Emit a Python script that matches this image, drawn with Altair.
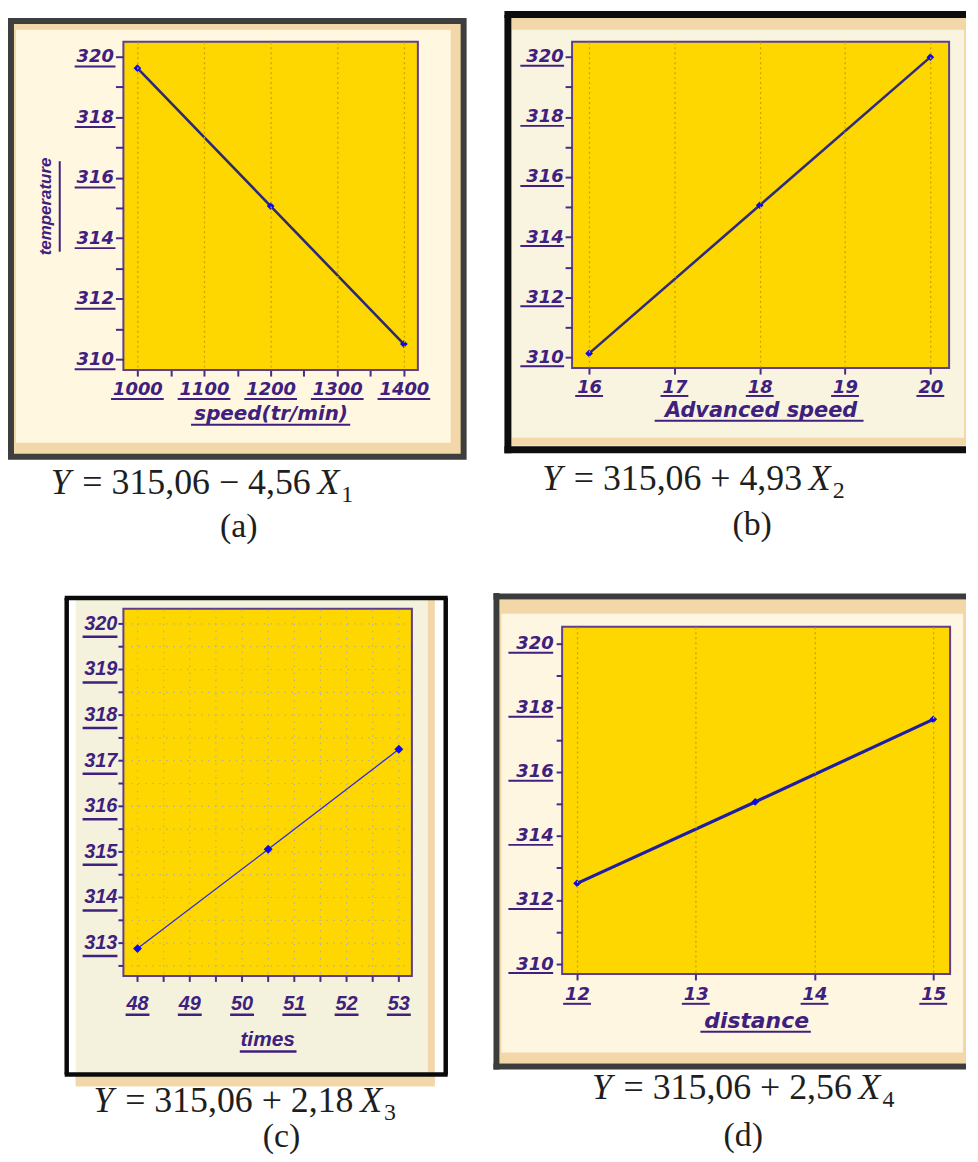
import altair as alt
import pandas as pd

# ---------------- data ----------------
a_speed = [1000, 1200, 1400]
a_temp = [319.62, 315.06, 310.50]
b_speed = [16, 18, 20]
b_temp = [310.13, 315.06, 319.99]
c_times = [48, 50.5, 53]
c_temp = [312.88, 315.06, 317.25]
d_dist = [12, 13.5, 15]
d_temp = [312.52, 315.06, 317.64]

a_xticks = [1000, 1050, 1100, 1150, 1200, 1250, 1300, 1350, 1400]
a_xlabels = [1000, 1100, 1200, 1300, 1400]
b_xticks = [16, 16.5, 17, 17.5, 18, 18.5, 19, 19.5, 20]
b_xlabels = [16, 17, 18, 19, 20]
c_xticks = [48, 48.5, 49, 49.5, 50, 50.5, 51, 51.5, 52, 52.5, 53]
c_xlabels = [48, 49, 50, 51, 52, 53]
d_xticks = [12, 12.5, 13, 13.5, 14, 14.5, 15]
d_xlabels = [12, 13, 14, 15]
y_ticks = [310, 311, 312, 313, 314, 315, 316, 317, 318, 319, 320]
y_labels = [310, 312, 314, 316, 318, 320]
c_yticks = [312.5, 313, 313.5, 314, 314.5, 315, 315.5, 316, 316.5, 317,
            317.5, 318, 318.5, 319, 319.5, 320]
c_ylabels = [313, 314, 315, 316, 317, 318, 319, 320]

x_titles = ["speed(tr/min)", "Advanced speed", "times", "distance"]
y_title = "temperature"
eq_mid = ["= 315,06 \u2212 4,56", "= 315,06 + 4,93", "= 315,06 + 2,18", "= 315,06 + 2,56"]
eq_sub = ["1", "2", "3", "4"]
captions = ["(a)", "(b)", "(c)", "(d)"]

# ---------------- styles ----------------
YELLOW = "#FFD700"
BORDER = "#5E3F8F"
TICK = "#4A2A86"
LAB = "#40207E"
TAN = "#F2D8A8"
EQ = "#1E1E1E"
PT = "#0A0AF0"
GC = "#B5B09A"
SERIF = "Liberation Serif"
DV = "DejaVu Sans"
LS = "Liberation Sans"


def one_row():
    return alt.Chart(pd.DataFrame({"k": [0]}))


def box(x1, x2, y1, y2, **kw):
    return one_row().mark_rect(**kw).encode(
        x=alt.value(x1), x2=alt.value(x2), y=alt.value(y1), y2=alt.value(y2))


def seg(x1, x2, y1, y2, **kw):
    return one_row().mark_rule(**kw).encode(
        x=alt.value(x1), x2=alt.value(x2), y=alt.value(y1), y2=alt.value(y2))


def txt(s, x, y, **kw):
    return alt.Chart(pd.DataFrame({"t": [s]})).mark_text(**kw).encode(
        text="t:N", x=alt.value(x), y=alt.value(y))


def equation(i, yx, base, labx, labbase):
    common = dict(baseline="alphabetic", font=SERIF, color=EQ)
    return [
        txt("Y", yx + 2, base, align="left", fontSize=36, fontStyle="italic", **common),
        txt(eq_mid[i], yx + 148.5, base, align="center", fontSize=36, **common),
        txt("X", yx + 270, base, align="left", fontSize=36, fontStyle="italic", **common),
        txt(eq_sub[i], yx + 294, base + 8, align="left", fontSize=24, **common),
        txt(captions[i], labx, labbase, align="center", fontSize=34, **common),
    ]


def label_style(font, size):
    return dict(labelFont=font, labelFontSize=size, labelFontWeight="bold",
                labelFontStyle="italic", labelColor=LAB)


def x_axis(values, mod, tick, pad, font, lsize, title, tsize, ty, grid_kw):
    return alt.Axis(values=values, format="d",
                    labelExpr="datum.value % " + str(mod) + " === 0 ? datum.label : ''",
                    tickSize=tick, tickWidth=2, tickColor=TICK, domain=False,
                    labelPadding=pad, labelBaseline="alphabetic", labelOverlap=False,
                    labelFlush=False, title=title, titleY=ty, titleBaseline="alphabetic",
                    titleFont=font, titleFontSize=tsize, titleFontWeight="bold",
                    titleFontStyle="italic", titleColor=LAB,
                    zindex=1, **label_style(font, lsize), **grid_kw)


def y_axis(values, mod, tick, pad, font, lsize, **extra):
    return alt.Axis(values=values, format="d",
                    labelExpr="datum.value % " + str(mod) + " === 0 ? datum.label : ''",
                    tickSize=tick, tickWidth=2, tickColor=TICK, domain=False,
                    labelPadding=pad, labelAlign="right", labelBaseline="middle",
                    labelOverlap=False, labelFlush=False, zindex=1, grid=False,
                    **label_style(font, lsize), **extra)


def panel(xs, ys, W, H, xdom, ydom, xaxis, yaxis, line_color, line_w, pt_size,
          xlabels, ylabels, ulx_hw, ulx_y, uly_x1, uly_x2, uly_off, ul_w,
          back, front, manual=None):
    df = pd.DataFrame({"x": xs, "y": ys})
    xsc = alt.Scale(domain=xdom, nice=False, zero=False)
    ysc = alt.Scale(domain=ydom, nice=False, zero=False)
    X = alt.X("x:Q", scale=xsc, axis=xaxis)
    Y = alt.Y("y:Q", scale=ysc, axis=yaxis)
    plot = box(0, W, 0, H, fill=YELLOW, stroke=BORDER, strokeWidth=2)
    mid, top = (manual(X, Y, W, H) if manual is not None else ([], []))
    line = alt.Chart(df).mark_line(color=line_color, strokeWidth=line_w).encode(x=X, y=Y)
    pts = alt.Chart(df).mark_point(shape="diamond", filled=True, color=PT,
                                   size=pt_size, opacity=1).encode(x=X, y=Y)
    ulx = alt.Chart(pd.DataFrame({"x": xlabels})).mark_rule(
        color=LAB, strokeWidth=ul_w, xOffset=-ulx_hw, x2Offset=ulx_hw).encode(
        x=X, x2=alt.X2("x"), y=alt.value(ulx_y))
    uly = alt.Chart(pd.DataFrame({"y": ylabels})).mark_rule(
        color=LAB, strokeWidth=ul_w, yOffset=uly_off).encode(
        y=Y, x=alt.value(uly_x1), x2=alt.value(uly_x2))
    layers = back + [plot] + mid + [line, pts, ulx, uly] + top + front
    return alt.layer(*layers).properties(width=W, height=H)


def manual_c(X, Y, W, H):
    # guides of panel (c), drawn through the panel's own x and y scales
    lab = dict(font=LS, fontSize=20, fontWeight="bold", fontStyle="italic", color=LAB)
    gx = alt.Chart(pd.DataFrame({"x": c_xticks})).mark_rule(
        color=GC, strokeDash=[1.5, 5.5], strokeWidth=1.2).encode(
        x=X, y=alt.value(1), y2=alt.value(H - 1))
    gy = alt.Chart(pd.DataFrame({"y": c_yticks})).mark_rule(
        color=GC, strokeDash=[1.5, 5.5], strokeWidth=1.2).encode(
        y=Y, x=alt.value(1), x2=alt.value(W - 1))
    tx = alt.Chart(pd.DataFrame({"x": c_xticks})).mark_rule(color=TICK, strokeWidth=2).encode(
        x=X, y=alt.value(H), y2=alt.value(H + 6))
    ty = alt.Chart(pd.DataFrame({"y": c_yticks})).mark_rule(color=TICK, strokeWidth=2).encode(
        y=Y, x=alt.value(-5), x2=alt.value(0))
    lx = alt.Chart(pd.DataFrame({"x": c_xlabels})).mark_text(
        align="center", baseline="alphabetic", **lab).encode(
        x=X, y=alt.value(H + 34), text=alt.Text("x:Q", format="d"))
    ly = alt.Chart(pd.DataFrame({"y": c_ylabels})).mark_text(
        align="right", baseline="middle", **lab).encode(
        y=Y, x=alt.value(-6), text=alt.Text("y:Q", format="d"))
    title = txt(x_titles[2], W / 2, H + 70, align="center", baseline="alphabetic",
                font=LS, fontSize=21, fontWeight="bold", fontStyle="italic", color=LAB)
    return [gx, gy], [tx, ty, lx, ly, title]


GRID_Y = dict(grid=True, gridColor="#C9A400", gridDash=[2, 3], gridWidth=1.3)

# ---------------- panel (a) ----------------
WA, HA = 296, 330
grid_a = dict(grid=True, gridColor="#C9A400", gridDash=[2, 3], gridWidth=1.3,
              gridOpacity={"condition": {"test": "datum.value % 100 === 0", "value": 1}, "value": 0})
pa = panel(
    a_speed, a_temp, WA, HA, [979, 1421], [309.64, 320.49],
    x_axis(a_xticks, 100, 6, 19, DV, 18, x_titles[0], 20, 50, grid_a),
    y_axis(y_ticks, 2, 8, 2, DV, 18, title=y_title, titleFont=LS, titleFontSize=17,
           titleFontWeight="bold", titleFontStyle="italic", titleColor=LAB, titleAngle=270,
           titleX=-73, titleY=HA / 2, titleBaseline="alphabetic", titleAlign="center"),
    "#2C2A74", 2.6, 60, a_xlabels, y_labels, 26.5, HA + 29, -49, -8, 10, 2,
    back=[box(-115, 367, -24, 546, fill="white"),
          box(-113, 342, -21, 417, fill=TAN, stroke="#3E3E3E", strokeWidth=6),
          box(-108, 329, -12, 403, fill="#FFF7E0")],
    front=[seg(68, 228, 385, 385, color=LAB, strokeWidth=2),
           seg(-64, -64, 120, 211, color=LAB, strokeWidth=2)] + equation(0, -75, 455, 116, 498),
)

# ---------------- panel (b) ----------------
WB, HB = 379, 328
pb = panel(
    b_speed, b_temp, WB, HB, [15.8, 20.22], [309.64, 320.5],
    x_axis(b_xticks, 1, 6, 19, DV, 18, x_titles[1], 21, 49, GRID_Y),
    y_axis(y_ticks, 2, 7, 2, DV, 18, title=None),
    "#302C7C", 2.6, 60, b_xlabels, y_labels, 14, HB + 28, -52, -8, 9, 2,
    back=[box(-84, 396, -31, 539, fill="white"),
          box(-61, 396, -26, 406, fill=TAN),
          box(-61, 394, -12, 398, fill="#F8F4DF"),
          seg(-68, 396, -27.5, -27.5, color="#0D0D0D", strokeWidth=7),
          seg(-68, 396, 410, 410, color="#0D0D0D", strokeWidth=7),
          seg(-64.5, -64.5, -27, 413.5, color="#0D0D0D", strokeWidth=7)],
    front=[seg(83, 293, 381, 381, color=LAB, strokeWidth=2)] + equation(1, -32, 451, 181, 496),
)

# ---------------- panel (c) ----------------
WC, HC = 290, 369
pc = panel(
    c_times, c_temp, WC, HC, [47.73, 53.25], [312.28, 320.33],
    None, None,
    "#2B2BE8", 1.3, 80, c_xlabels, c_ylabels, 12, HC + 39, -41, -6, 13, 2.5,
    back=[box(-72, 365, -24, 548, fill="white"),
          box(-48, 306, -9, 478, fill="#F4F2DC"),
          box(306, 313, -9, 478, fill=TAN),
          box(-48, 313, 470, 480, fill=TAN),
          seg(-59, 326, -11, -11, color="#0A0A0A", strokeWidth=4.5),
          seg(-59, 326, 468, 468, color="#0A0A0A", strokeWidth=4.5),
          seg(-57, -57, -11, 468, color="#0A0A0A", strokeWidth=4.5),
          seg(324, 324, -11, 468, color="#0A0A0A", strokeWidth=4.5)],
    front=[seg(117, 174, 445, 445, color=LAB, strokeWidth=2.5)] + equation(2, -32, 506, 159, 541),
    manual=manual_c,
)

# ---------------- panel (d) ----------------
WD, HD = 390, 349
pd_ = panel(
    d_dist, d_temp, WD, HD, [11.874, 15.142], [309.69, 320.53],
    x_axis(d_xticks, 1, 6, 20, DV, 18, x_titles[3], 22, 54, GRID_Y),
    y_axis(y_ticks, 2, 6, 3, DV, 18, title=None),
    "#1E1EA5", 3.2, 60, d_xlabels, y_labels, 14, HD + 30, -54, -9, 9, 2,
    back=[box(-74, 406, -42, 530, fill="white"),
          box(-63, 406, -27, 439, fill=TAN),
          box(-61, 403, -13, 428, fill="#FEF6E1"),
          seg(-69, 406, -30.5, -30.5, color="#3C3C3C", strokeWidth=6),
          seg(-69, 406, 442, 442, color="#3C3C3C", strokeWidth=6),
          seg(-66, -66, -34, 445, color="#3C3C3C", strokeWidth=6)],
    front=[seg(139, 250, 407, 407, color=LAB, strokeWidth=2)] + equation(3, 28, 475, 182, 522),
)

chart = alt.concat(pa, pb, pc, pd_, columns=2, spacing=0, align="none", bounds="full") \
    .properties(padding=0).configure_view(strokeWidth=0)

chart.save("out.html", embed_options={"renderer": "svg", "actions": False})
